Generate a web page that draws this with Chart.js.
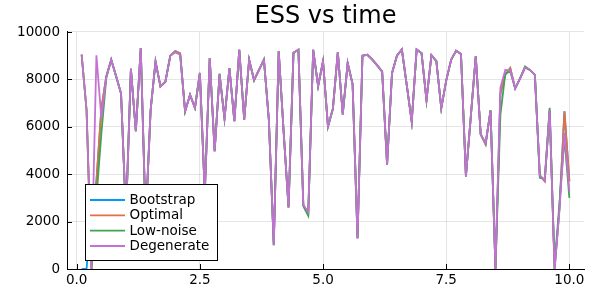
<!DOCTYPE html>
<html><head><meta charset="utf-8">
<script src="https://cdn.jsdelivr.net/npm/chart.js@4"></script>
<style>html,body{margin:0;padding:0;background:#fff}</style>
</head><body>
<canvas id="c" width="598" height="299"></canvas>
<script>
const times = [0.1,0.2,0.3,0.4,0.5,0.6,0.7,0.8,0.9,1.0,
 1.1,1.2,1.3,1.4,1.5,1.6,1.7,1.8,1.9,2.0,
 2.1,2.2,2.3,2.4,2.5,2.6,2.7,2.8,2.9,3.0,
 3.1,3.2,3.3,3.4,3.5,3.6,3.7,3.8,3.9,4.0,
 4.1,4.2,4.3,4.4,4.5,4.6,4.7,4.8,4.9,5.0,
 5.1,5.2,5.3,5.4,5.5,5.6,5.7,5.8,5.9,6.0,
 6.1,6.2,6.3,6.4,6.5,6.6,6.7,6.8,6.9,7.0,
 7.1,7.2,7.3,7.4,7.5,7.6,7.7,7.8,7.9,8.0,
 8.1,8.2,8.3,8.4,8.5,8.6,8.7,8.8,8.9,9.0,
 9.1,9.2,9.3,9.4,9.5,9.6,9.7,9.8,9.9,10.0];

const bootstrap = [0,0,2500,3700,6750,8120,8830,8130,7400,2200,
 8450,5810,9320,2000,6700,8750,7700,7900,9000,9200,
 9100,6650,7350,6800,8270,3200,8900,4970,8200,6350,
 8470,6240,9250,6300,8830,7950,8400,8830,6300,1000,
 9200,5800,2600,9120,9250,2700,2350,9250,7720,8760,
 6010,6760,9150,6520,8690,7800,1300,9000,9040,8830,
 8590,8330,4400,8260,9000,9260,7750,6220,9260,9100,
 7140,9020,8770,6790,7950,8830,9210,9070,3910,6450,
 8980,5680,5250,6700,0,7400,8200,8480,7620,8040,
 8500,8400,8190,3950,3700,6700,0,2600,6650,3700];

const optimal = [9045,6700,0,3700,6750,8120,8830,8130,7400,2200,
 8450,5810,9320,2000,6700,8750,7700,7900,9000,9200,
 9100,6650,7350,6800,8270,3200,8900,4970,8200,6350,
 8470,6240,9250,6300,8830,7950,8400,8830,6300,1000,
 9200,5800,2600,9120,9250,2700,2350,9250,7720,8760,
 6010,6760,9150,6520,8690,7800,1300,9000,9040,8830,
 8590,8330,4400,8260,9000,9260,7750,6220,9260,9100,
 7140,9020,8770,6790,7950,8830,9210,9070,3910,6450,
 8980,5680,5250,6700,0,7400,8200,8480,7620,8040,
 8500,8400,8190,3950,3700,6700,0,2600,6650,3700];

const lowNoise = [9045,6700,0,3000,5700,8050,8830,8130,7400,2200,
 8450,5810,9320,2000,6700,8750,7700,7900,9000,9150,
 9050,6650,7350,6800,8270,3200,8900,4970,8250,6350,
 8470,6240,9250,6300,8830,7990,8400,8830,6300,1020,
 9200,5800,2600,9120,9250,2650,2250,9250,7720,8760,
 6010,6760,9150,6520,8690,7800,1300,9000,9040,8830,
 8590,8330,4400,8260,9000,9260,7750,6220,9260,9100,
 7100,9020,8770,6790,7950,8830,9210,9070,3900,6450,
 8980,5680,5320,6680,0,6500,8250,8330,7620,8040,
 8550,8400,8190,3850,3800,6800,150,2800,5530,3000];

const degenerate = [9045,6700,0,9020,6370,8080,8830,8130,7400,2200,
 8450,5810,9320,2000,6700,8750,7700,7900,9000,9150,
 9050,6650,7350,6800,8270,3200,8900,4970,8200,6350,
 8470,6240,9250,6300,8830,7990,8400,8830,6300,1020,
 9200,5800,2600,9120,9250,2700,2400,9250,7720,8760,
 6010,6760,9150,6520,8690,7800,1300,9000,9040,8830,
 8590,8330,4400,8260,9000,9260,7750,6220,9260,9100,
 7140,9020,8770,6790,7950,8830,9210,9070,3910,6450,
 8980,5680,5320,6680,0,7650,8400,8380,7620,8040,
 8500,8400,8190,3950,3750,6700,0,2500,5750,3280];

const seriesNames = ['Bootstrap','Optimal','Low-noise','Degenerate'];
const seriesColors = ['#009AFA','#E36F47','#3EA44E','#C371D2'];
const xTicks = [0, 2.5, 5, 7.5, 10];
const xTickLabels = ['0.0','2.5','5.0','7.5','10.0'];
const yTicks = [0, 2000, 4000, 6000, 8000, 10000];
const yTickLabels = ['0','2000','4000','6000','8000','10000'];

const FONT = 'DejaVu Sans';
const allSeries = [bootstrap, optimal, lowNoise, degenerate];

const datasets = allSeries.map((vals, k) => ({
  label: seriesNames[k],
  data: times.map((t, i) => ({x: t, y: vals[i]})),
  borderColor: seriesColors[k],
  backgroundColor: seriesColors[k],
  borderWidth: 1.8,
  pointRadius: 0,
  tension: 0,
  fill: false,
  order: 3 - k
}));

const extras = {
  id: 'extras',
  afterDraw(chart) {
    const {ctx, chartArea: a, scales: {x, y}} = chart;
    ctx.save();
    ctx.strokeStyle = '#000';
    ctx.lineWidth = 1;
    ctx.beginPath();
    xTicks.forEach(v => {
      const px = Math.round(x.getPixelForValue(v)) + 0.5;
      ctx.moveTo(px, a.bottom); ctx.lineTo(px, a.bottom - 5);
    });
    yTicks.forEach(v => {
      const py = Math.round(y.getPixelForValue(v)) + 0.5;
      ctx.moveTo(a.left, py); ctx.lineTo(a.left + 5, py);
    });
    ctx.stroke();
    // legend
    const bx = 85.5, by = 184.5, bw = 132, bh = 76;
    ctx.fillStyle = '#fff';
    ctx.fillRect(bx, by, bw, bh);
    ctx.strokeStyle = '#000';
    ctx.strokeRect(bx, by, bw, bh);
    const rows = [200, 215.3, 230.6, 246];
    ctx.font = '13.5px "' + FONT + '"';
    ctx.textBaseline = 'middle';
    ctx.textAlign = 'left';
    chart.data.datasets.forEach((ds, k) => {
      ctx.strokeStyle = ds.borderColor;
      ctx.lineWidth = 1.8;
      ctx.beginPath();
      ctx.moveTo(90, rows[k]); ctx.lineTo(125, rows[k]);
      ctx.stroke();
      ctx.fillStyle = '#000';
      ctx.fillText(ds.label, 129.5, rows[k] + 0.5);
    });
    ctx.restore();
  }
};

new Chart(document.getElementById('c'), {
  type: 'line',
  data: {datasets},
  plugins: [extras],
  options: {
    responsive: false,
    animation: false,
    devicePixelRatio: 1,
    layout: {padding: {left: 0, right: 14, top: 0, bottom: 0}},
    plugins: {
      legend: {display: false},
      tooltip: {enabled: false},
      title: {
        display: true, text: 'ESS vs time', fullSize: false,
        color: '#000', font: {family: FONT, size: 24, weight: 'normal', lineHeight: 1.2},
        padding: {top: 2, bottom: 1.2}
      }
    },
    scales: {
      x: {
        type: 'linear', min: -0.197, max: 10.297,
        afterBuildTicks: s => { s.ticks = xTicks.map(v => ({value: v})); },
        afterFit: s => { s.height = 30; },
        ticks: {
          callback: v => xTickLabels[xTicks.indexOf(v)],
          color: '#000', font: {family: FONT, size: 13.5}, padding: 3,
          maxRotation: 0, autoSkip: false
        },
        grid: {color: 'rgba(0,0,0,0.1)', lineWidth: 1, drawTicks: false},
        border: {color: '#000', width: 1}
      },
      y: {
        type: 'linear', min: 0, max: 10000,
        afterBuildTicks: s => { s.ticks = yTicks.map(v => ({value: v})); },
        afterFit: s => { s.width = 67; },
        ticks: {
          callback: v => yTickLabels[yTicks.indexOf(v)],
          color: '#000', font: {family: FONT, size: 13.5}, padding: 7
        },
        grid: {color: 'rgba(0,0,0,0.1)', lineWidth: 1, drawTicks: false},
        border: {color: '#000', width: 1}
      }
    }
  }
});
</script>
</body></html>
